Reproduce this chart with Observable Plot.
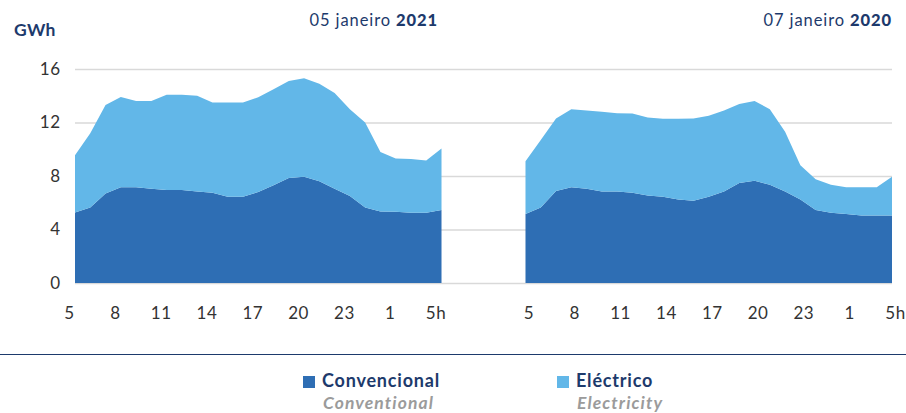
<!DOCTYPE html>
<html>
<head>
<meta charset="utf-8">
<script src="https://cdn.jsdelivr.net/npm/d3@7"></script>
<script src="https://cdn.jsdelivr.net/npm/@observablehq/plot@0.6"></script>
<style>
  html, body { margin: 0; padding: 0; background: #fff; }
  #wrap { position: relative; width: 906px; height: 413px; font-family: Lato, sans-serif; overflow: hidden; }
  #chart { position: absolute; left: 0; top: 0; }
  .abs { position: absolute; white-space: nowrap; }
  .unit { left: 14px; top: 19px; font-size: 17.5px; font-weight: 700; color: #1d3a6c; letter-spacing: 0.3px; }
  .ttl { top: 10px; font-size: 16.5px; color: #1d3a6c; letter-spacing: 0.9px; }
  .ttl b { font-weight: 900; }
  .sep { left: 0; top: 354px; width: 906px; height: 0; border-top: 1.6px solid #1d3a6c; }
  .sw { width: 12px; height: 12px; top: 376px; }
  .lg { top: 369px; font-size: 18px; font-weight: 700; color: #1d3a6c; letter-spacing: 0.8px; }
  .lg2 { top: 392px; font-size: 17.5px; font-style: italic; font-weight: 700; color: #9b9b9b; letter-spacing: 1.1px; }
</style>
</head>
<body>
<div id="wrap">
  <div id="chart"></div>
  <div class="abs unit">GWh</div>
  <div class="abs ttl" id="t1"></div>
  <div class="abs ttl" id="t2"></div>
  <div class="abs sep"></div>
  <div id="legend"></div>
</div>
<script>
// Hour labels along the x axis (every 3 hours, 5h to 5h next day)
const tickLabels = ["5", "8", "11", "14", "17", "20", "23", "1", "5h"];
const hours = [5,6,7,8,9,10,11,12,13,14,15,16,17,18,19,20,21,22,23,0,1,2,3,4,5];

const seriesNames = ["Convencional", "Eléctrico"];
const seriesNamesEn = ["Conventional", "Electricity"];
const seriesColors = ["#2e6eb4", "#62b7e8"];

// 05 janeiro 2021 (GWh)
const conv2021 = [5.28,5.65,6.7,7.15,7.15,7.05,6.95,6.95,6.85,6.75,6.45,6.45,6.8,7.3,7.85,7.95,7.6,7.05,6.5,5.65,5.35,5.33,5.25,5.25,5.45];
const elec2021 = [4.27,5.55,6.6,6.75,6.45,6.55,7.13,7.13,7.15,6.75,7.05,7.05,7.08,7.18,7.25,7.35,7.3,7.15,6.5,6.35,4.45,3.97,4.03,3.9,4.6];

// 07 janeiro 2020 (GWh)
const conv2020 = [5.15,5.65,6.88,7.15,7.05,6.85,6.85,6.75,6.55,6.45,6.25,6.15,6.45,6.85,7.48,7.65,7.35,6.85,6.25,5.45,5.25,5.15,5.05,5.05,5.05];
const elec2020 = [3.95,5.05,5.42,5.85,5.85,5.95,5.85,5.93,5.83,5.83,6.03,6.15,6.05,6.05,5.9,5.95,5.65,4.45,2.55,2.3,2.1,2.0,2.1,2.1,2.9];

const panels = [
  {day: "05 janeiro ", year: "2021", offset: 0, conv: conv2021, elec: elec2021},
  {day: "07 janeiro ", year: "2020", offset: 29.5, conv: conv2020, elec: elec2020}
];

const rows = [];
for (const p of panels) {
  [p.conv, p.elec].forEach((vals, s) => {
    vals.forEach((v, i) => rows.push({pos: p.offset + i, hour: hours[i], type: seriesNames[s], key: p.year + "-" + seriesNames[s], value: v}));
  });
}

const tickIdx = d3.range(0, 25, 3);
const axisStyle = {tickSize: 0, tickPadding: 23, fontSize: 17, fill: "#333", label: null};

const chart = Plot.plot({
  width: 906,
  height: 340,
  marginLeft: 75,
  marginRight: 14,
  marginTop: 69,
  marginBottom: 57,
  style: {fontFamily: "Lato, sans-serif", background: "transparent", letterSpacing: "0.5px"},
  x: {domain: [0, 53.5], axis: null},
  y: {domain: [0, 16], axis: null},
  color: {domain: seriesNames, range: seriesColors},
  marks: [
    Plot.gridY([0, 4, 8, 12, 16], {stroke: "#d9d9d9", strokeOpacity: 1, strokeWidth: 1.3}),
    Plot.areaY(rows, Plot.stackY({x: "pos", y: "value", fill: "type", z: "key"})),
    Plot.axisY([0, 4, 8, 12, 16], {tickSize: 0, tickPadding: 15, fontSize: 17, fill: "#333", label: null}),
    Plot.axisX(tickIdx.map(i => panels[0].offset + i), {...axisStyle, dx: -6, tickFormat: (d, i) => tickLabels[i]}),
    Plot.axisX(tickIdx.map(i => panels[1].offset + i), {...axisStyle, dx: 3, tickFormat: (d, i) => tickLabels[i]})
  ]
});
document.getElementById("chart").appendChild(chart);

// Panel titles, right-aligned over each panel
const titleRight = [906 - 438, 906 - 892];
panels.forEach((p, k) => {
  const el = document.getElementById(k === 0 ? "t1" : "t2");
  el.innerHTML = "";
  el.appendChild(document.createTextNode(p.day));
  const b = document.createElement("b");
  b.textContent = p.year;
  el.appendChild(b);
  el.style.right = titleRight[k] + "px";
});

// Legend
const legend = document.getElementById("legend");
const legendX = [303, 557];
seriesNames.forEach((name, i) => {
  const sw = document.createElement("div");
  sw.className = "abs sw";
  sw.style.left = legendX[i] + "px";
  sw.style.background = seriesColors[i];
  legend.appendChild(sw);
  const t = document.createElement("div");
  t.className = "abs lg";
  t.style.left = (legendX[i] + 19) + "px";
  t.textContent = name;
  legend.appendChild(t);
  const t2 = document.createElement("div");
  t2.className = "abs lg2";
  t2.style.left = (legendX[i] + 20) + "px";
  t2.textContent = seriesNamesEn[i];
  legend.appendChild(t2);
});
</script>
</body>
</html>
